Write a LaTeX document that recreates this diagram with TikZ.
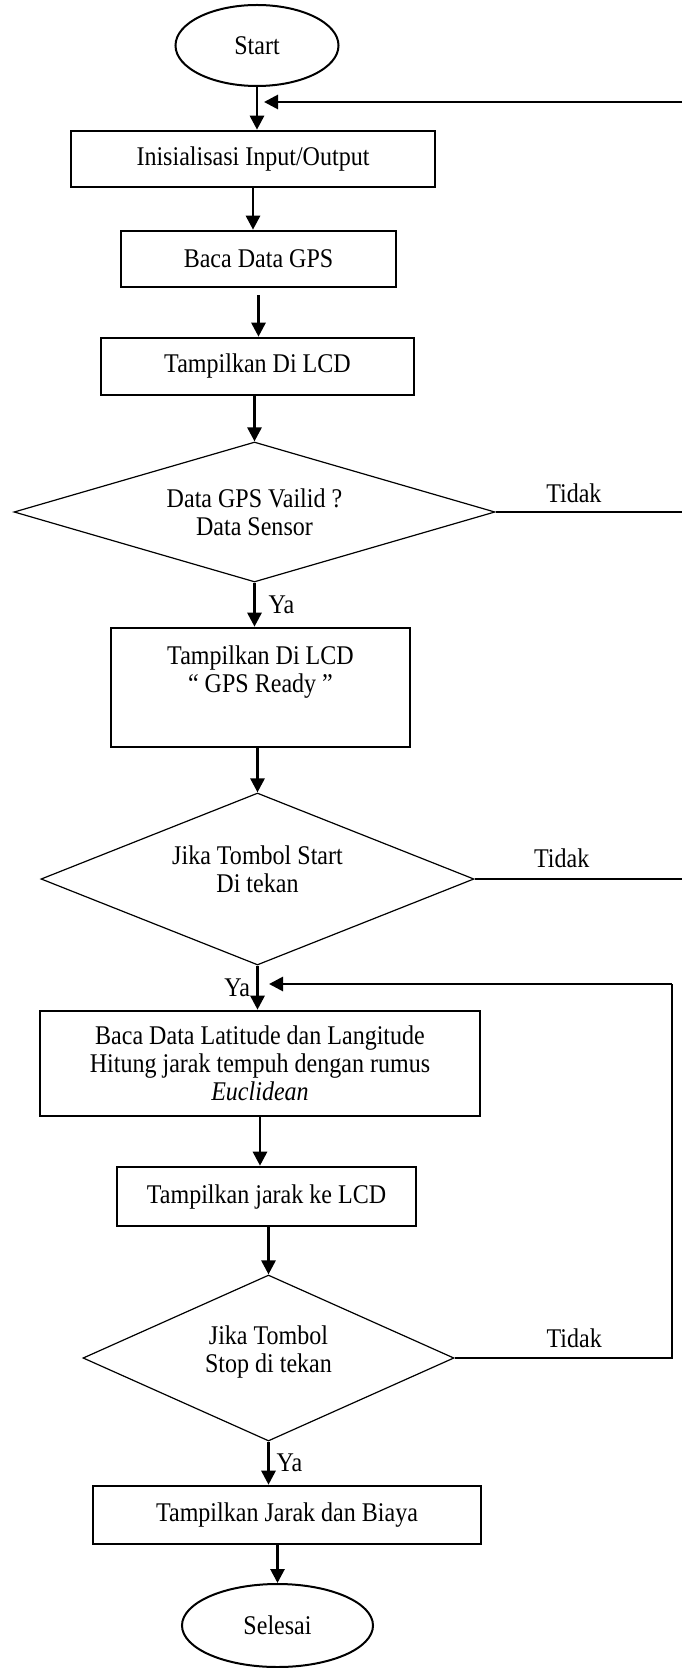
\documentclass[tikz,border=0pt]{standalone}
\usepackage{fontspec}
\setmainfont{Liberation Serif}[FakeStretch=0.89]
\usepackage{tikz}
\usetikzlibrary{shapes.geometric,arrows.meta,calc}

\begin{document}
\begin{tikzpicture}[x=0.5pt, y=-0.5pt, >={Triangle[length=7pt,width=7pt]},
        every node/.style={font=\fontsize{13.5}{14}\selectfont, align=center},
        terminal/.style={ellipse, draw, line width=1pt, inner sep=0pt},
        procbox/.style={rectangle, draw, line width=1.3pt, inner sep=0pt, minimum height=28pt},
        decision/.style={diamond, draw, line width=0.6pt, inner sep=0pt},
        flow/.style={->, line width=1.4pt},
        backline/.style={line width=0.8pt}]
        \useasboundingbox (0,0) rectangle (682,1668);

        % Start and setup
        \node[terminal, minimum width=81.5pt, minimum height=40.5pt] (start) at (257,45.5) {Start};
        \node[procbox, minimum width=182pt] (init) at (253,159) {Inisialisasi Input/Output};
        \node[procbox, minimum width=137.5pt] (gps) at (258.5,259) {Baca Data GPS};
        \node[procbox, minimum width=156.5pt, minimum height=28.5pt] (lcd) at (257.5,366.5) {Tampilkan Di LCD};

        % GPS check
        \node[decision, minimum width=240.5pt, minimum height=70pt, aspect=3.4] (valid) at (254.5,512) {Data GPS Vailid ?\\Data Sensor};
        \node[procbox, minimum width=149.5pt, minimum height=59.5pt] (ready) at (260.5,687.5) {Tampilkan Di LCD\\“ GPS Ready ”\\\rule[-4pt]{0pt}{0pt}\mbox{}};
        \node[decision, minimum width=216.5pt, minimum height=86pt, aspect=2.5] (press) at (257.5,879) {Jika Tombol Start\\Di tekan\rule[-10pt]{0pt}{0pt}};

        % Measuring loop
        \node[procbox, minimum width=220pt, minimum height=52.5pt] (calc) at (260,1063.5) {Baca Data Latitude dan Langitude\\Hitung jarak tempuh dengan rumus\\\textit{Euclidean}};
        \node[procbox, minimum width=149.5pt, minimum height=29.5pt] (dist) at (266.5,1196.5) {Tampilkan jarak ke LCD};
        \node[decision, minimum width=185.5pt, minimum height=83pt, aspect=2.2] (stop) at (268.5,1358) {Jika Tombol\\Stop di tekan\rule[-9pt]{0pt}{0pt}};

        % End
        \node[procbox, minimum width=194pt, minimum height=29pt] (result) at (287,1515) {Tampilkan Jarak dan Biaya};
        \node[terminal, minimum width=95.5pt, minimum height=41.5pt] (finish) at (277.5,1625.5) {Selesai};

        % Loop ends
        \coordinate (backA) at (682,102);
        \coordinate (joinA) at (264,102);
        \coordinate (exitA) at (682,512);
        \coordinate (exitB) at (682,879);
        \coordinate (loopB) at (672,984);
        \coordinate (joinB) at (269,984);

        % Arrows
        \draw[flow] (start) -- (start |- init.north);
        \draw[flow] (init) -- (init |- gps.north);
        \draw[flow, shorten <=3.5pt] (gps) -- (gps |- lcd.north);
        \draw[flow] (valid.north |- lcd.south) -- (valid.north);
        \draw[flow] (valid) -- node[right=3pt] {Ya} (valid |- ready.north);
        \draw[flow] (press.north |- ready.south) -- (press.north);
        \draw[flow] (press) -- node[left, inner sep=3pt] {Ya} (press |- calc.north);
        \draw[flow] (calc) -- (calc |- dist.north);
        \draw[flow] (stop.north |- dist.south) -- (stop.north);
        \draw[flow] (stop) -- node[right] {Ya} (stop |- result.north);
        \draw[flow] (finish.north |- result.south) -- (finish.north);

        % Tidak branches
        \draw[flow] (backA) -- (joinA);
        \draw[backline] (valid.east) -- node[above=1pt, pos=0.42] {Tidak} (exitA);
        \draw[backline] (press.east) -- node[above=2pt, pos=0.42] {Tidak} (exitB);
        \draw[backline] (stop.east) -| node[above=1.5pt, pos=0.275] {Tidak} (loopB);
        \draw[flow] (loopB) -- (joinB);
    \end{tikzpicture}
\end{document}
